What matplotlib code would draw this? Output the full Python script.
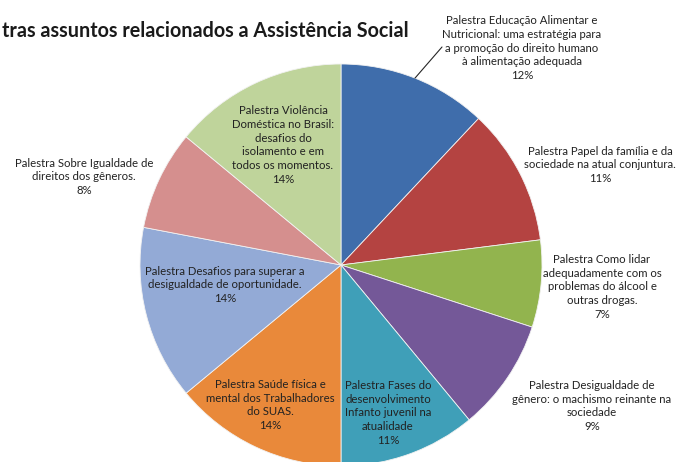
import numpy as np
import matplotlib
matplotlib.use("Agg")
import matplotlib.pyplot as plt

plt.rcParams['font.family'] = ['Lato', 'DejaVu Sans']

# temas das palestras e percentual de participação
palestras = [
    "Palestra Educação Alimentar e\nNutricional: uma estratégia para\na promoção do direito humano\nà alimentação adequada",
    "Palestra Papel da família e da\nsociedade na atual conjuntura.",
    "Palestra Como lidar\nadequadamente com os\nproblemas do álcool e\noutras drogas.",
    "Palestra Desigualdade de\ngênero: o machismo reinante na\nsociedade",
    "Palestra Fases do\ndesenvolvimento\nInfanto juvenil na\natualidade",
    "Palestra Saúde física e\nmental dos Trabalhadores\ndo SUAS.",
    "Palestra Desafios para superar a\ndesigualdade de oportunidade.",
    "Palestra Sobre Igualdade de\ndireitos dos gêneros.",
    "Palestra Violência\nDoméstica no Brasil:\ndesafios do\nisolamento e em\ntodos os momentos.",
]
percentuais = [12, 11, 7, 9, 11, 14, 14, 8, 14]

cores = ['#3f6dab', '#b44341', '#92b44e', '#745898', '#3f9fb8',
         '#e9893a', '#93aad6', '#d58f8e', '#bfd49b']

titulo = "tras assuntos relacionados a Assistência Social"

# posição dos rótulos (pixels, origem no canto superior esquerdo)
pos_rotulos = [(522, 48), (600, 165), (602, 287), (592, 406), (388, 413),
               (270, 405), (225, 285), (84, 177), (283, 145)]

W, H = 678, 462
fig = plt.figure(figsize=(W / 100, H / 100), dpi=100)
ax = fig.add_axes([0, 0, 1, 1])

centro = (341, H - 265)
raio = 201
wedges, _ = ax.pie(percentuais, colors=cores, startangle=90, counterclock=False,
                   center=centro, radius=raio,
                   wedgeprops=dict(edgecolor='#f2f2f2', linewidth=0.6))

ax.set_xlim(0, W)
ax.set_ylim(0, H)
ax.set_aspect('auto')
ax.axis('off')

for i, (txt, pct) in enumerate(zip(palestras, percentuais)):
    x, y = pos_rotulos[i]
    ax.text(x, H - y, f"{txt}\n{pct}%", ha='center', va='center',
            fontsize=8.2, color='#222222', linespacing=1.3)

# linha de chamada do primeiro rótulo
w = wedges[0]
ang = np.deg2rad((w.theta1 + w.theta2) / 2)
borda = (centro[0] + raio * np.cos(ang), centro[1] + raio * np.sin(ang))
ax.annotate("", xy=borda, xytext=(442, H - 47),
            arrowprops=dict(arrowstyle='-', color='#262626', lw=0.8,
                            shrinkA=0, shrinkB=0))

fig.text(2 / W, 1 - 31 / H, titulo, ha='left', va='center',
         fontsize=14.2, fontweight='bold', color='#1a1a1a')

fig.savefig("out.png", dpi=100)
